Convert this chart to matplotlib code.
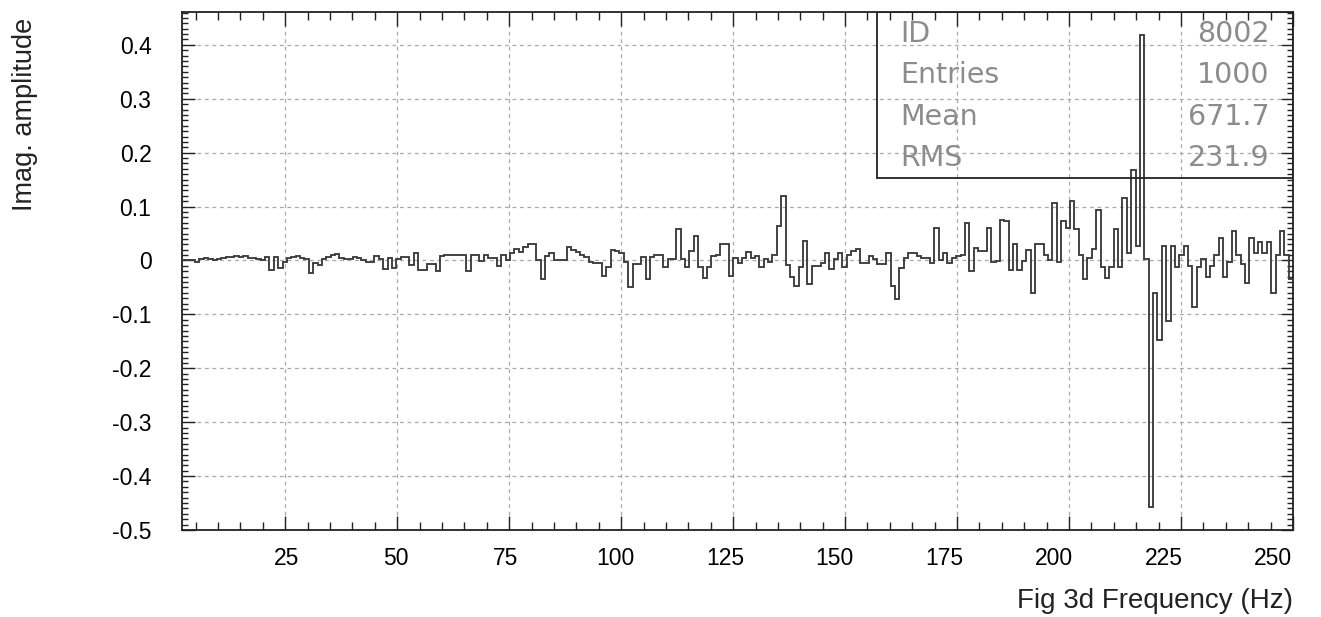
import numpy as np
import matplotlib
matplotlib.use('Agg')
import matplotlib.pyplot as plt
from matplotlib.ticker import MultipleLocator
from matplotlib.transforms import ScaledTranslation

# imaginary part of the spectrum, one value per frequency bin (Hz)
imag_amp = [
    0.0, 0.0, 0.0, -0.002, 0.002, 0.005, 0.002, 0.0, 0.002, 0.004,
    0.006, 0.007, 0.009, 0.007, 0.009, 0.004, 0.005, 0.003, 0.001, 0.007,
    -0.018, 0.006, -0.014, -0.003, 0.005, 0.006, 0.008, 0.005, 0.003, -0.023,
    -0.005, -0.008, 0.003, 0.006, 0.010, 0.012, 0.004, 0.002, 0.003, 0.007,
    0.004, 0.001, -0.003, -0.002, 0.009, 0.002, -0.016, 0.005, -0.014, 0.002,
    0.006, 0.006, -0.008, 0.014, -0.017, -0.017, -0.006, -0.006, -0.020, 0.008,
    0.011, 0.010, 0.010, 0.010, 0.010, -0.020, 0.011, 0.011, -0.001, 0.010,
    0.005, 0.004, -0.010, 0.010, 0.0, 0.014, 0.022, 0.016, 0.025, 0.030,
    0.030, 0.0, -0.035, 0.008, 0.014, 0.0, 0.0, 0.0, 0.025, 0.020,
    0.015, 0.010, 0.006, -0.003, -0.005, -0.005, -0.028, -0.012, 0.020,
    0.017, 0.014, -0.002, -0.050, -0.007, -0.007, 0.007, -0.035, 0.007, 0.011,
    0.011, -0.012, 0.002, 0.002, 0.059, 0.002, -0.012, 0.017, 0.045, -0.012,
    -0.032, -0.012, 0.008, 0.011, 0.031, 0.031, -0.029, 0.005, -0.004, 0.005,
    0.016, 0.005, 0.009, -0.012, 0.002, -0.003, 0.010, 0.064, 0.119,
    -0.008, -0.030, -0.047, -0.013, 0.036, -0.044, -0.010, -0.010, -0.004, 0.014,
    -0.016, 0.002, 0.014, -0.013, 0.010, 0.017, 0.022, -0.004, -0.004, 0.009,
    0.002, -0.007, -0.007, 0.014, -0.047, -0.072, -0.014, 0.005, 0.014, 0.014,
    0.008, 0.005, 0.005, -0.004, 0.060, 0.0, 0.014, -0.004, 0.005, 0.008,
    0.011, 0.070, -0.020, 0.023, 0.017, 0.017, 0.060, -0.003, -0.001, 0.076,
    0.073, -0.017, 0.030, -0.017, -0.001, 0.020, -0.060, 0.030,
    0.030, 0.010, 0.0, 0.106, -0.003, 0.074, 0.060, 0.110, 0.058, 0.010,
    -0.035, 0.005, 0.022, 0.093, -0.013, -0.032, -0.013, 0.058, -0.013, 0.116,
    0.013, 0.167, 0.026, 0.418, 0.003, -0.457, -0.061, -0.148, 0.026, -0.113,
    0.026, -0.013, 0.010, 0.026, -0.010, -0.087, -0.013, 0.003, -0.030, -0.010,
    0.010, 0.042, -0.030, -0.003, 0.055, 0.010, -0.006, -0.042, 0.042, 0.013,
    0.035, 0.013, 0.035, -0.061, 0.010, 0.055, 0.010, -0.035,
]

# FFT bins: 500 Hz sampling, 512 points -> 250/256 Hz per bin, ends at Nyquist
f_max = 250.0
bin_width = 250.0 / 256
f_min = f_max - len(imag_amp) * bin_width

x_ticks = [25, 50, 75, 100, 125, 150, 175, 200, 225, 250]
y_ticks = [-0.5, -0.4, -0.3, -0.2, -0.1, 0.0, 0.1, 0.2, 0.3, 0.4]
y_tick_labels = ['-0.5', '-0.4', '-0.3', '-0.2', '-0.1', '0', '0.1', '0.2', '0.3', '0.4']

stat_names = ['ID', 'Entries', 'Mean', 'RMS']
stat_values = ['8002', '1000', '671.7', '231.9']

plt.rcParams['font.family'] = ['Liberation Sans', 'DejaVu Sans']

fig = plt.figure(figsize=(13.21, 6.17), dpi=100)
ax = fig.add_axes([182 / 1321, 1 - 530 / 617, (1293 - 182) / 1321, (530 - 12) / 617])

edges = np.linspace(f_min, f_max, len(imag_amp) + 1)
ax.stairs(imag_amp, edges, baseline=None, color='#3c3c3c', linewidth=1.35, zorder=3)

ax.set_xlim(f_min, f_max)
ax.set_ylim(-0.5, 0.461)

ax.set_xticks(x_ticks)
ax.set_xticklabels([str(t) for t in x_ticks])
ax.xaxis.set_minor_locator(MultipleLocator(5))
ax.set_yticks(y_ticks)
ax.set_yticklabels(y_tick_labels)
ax.yaxis.set_minor_locator(MultipleLocator(0.01))

ax.tick_params(which='both', direction='in', top=True, right=True, width=1.0, color='#222222')
ax.tick_params(axis='x', which='major', length=10, pad=12, labelsize=16.5)
ax.tick_params(axis='x', which='minor', length=6)
ax.tick_params(axis='y', which='major', length=9, pad=22, labelsize=16.5)
ax.tick_params(axis='y', which='minor', length=4.5)

# the frequency labels creep slightly left of their ticks towards the high end
for t, lab in zip(x_ticks, ax.get_xticklabels()):
    dx = -(t - 40) / 210 * 20 / fig.dpi
    lab.set_transform(lab.get_transform() + ScaledTranslation(dx, 0, fig.dpi_scale_trans))

for s in ax.spines.values():
    s.set_linewidth(1.3)
    s.set_color('#222222')

ax.grid(True, which='major', linestyle=(0, (3, 3)), color='#a8a8a8', linewidth=0.9, zorder=0)
ax.set_axisbelow(True)

# statistics box, drawn open so the grid and the peak show through
box = plt.Rectangle((0.6256, 0.6795), 1 - 0.6256, 1 - 0.6795, transform=ax.transAxes,
                    fill=False, edgecolor='#222222', linewidth=1.3, zorder=4)
ax.add_patch(box)
row_y = [0.9575, 0.878, 0.797, 0.718]
for name, val, yy in zip(stat_names, stat_values, row_y):
    ax.text(0.6463, yy, name, transform=ax.transAxes, ha='left', va='center',
            fontsize=20.5, color='#8c8c8c', family='DejaVu Sans', zorder=5)
    ax.text(0.979, yy, val, transform=ax.transAxes, ha='right', va='center',
            fontsize=20.5, color='#8c8c8c', family='DejaVu Sans', zorder=5)

fig.text(25 / 1321, 1 - 18 / 617, 'Imag. amplitude', rotation=90, ha='center', va='top',
         fontsize=19.5, color='#222222')
fig.text(1293 / 1321, 1 - 601 / 617, 'Fig 3d Frequency (Hz)', ha='right', va='center',
         fontsize=20, color='#222222')

fig.savefig('out.png', dpi=100)
